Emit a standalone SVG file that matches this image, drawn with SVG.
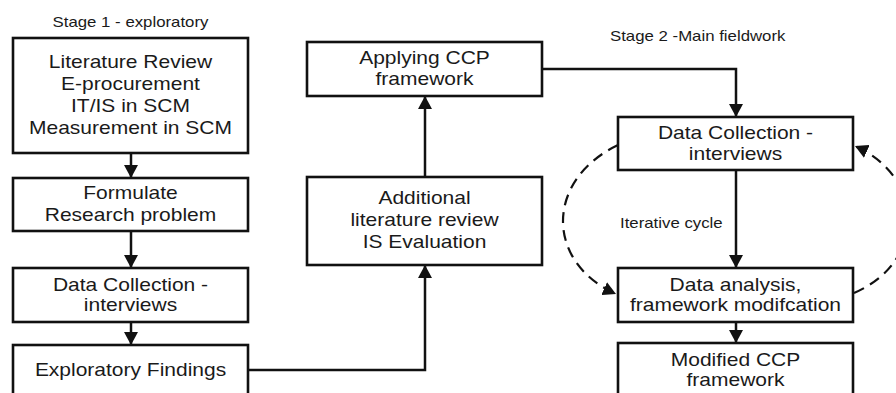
<svg xmlns="http://www.w3.org/2000/svg" width="896" height="393" viewBox="0 0 896 393">
<style>
.box{fill:#fff;stroke:#111;stroke-width:2.6}
.t{font-family:"Liberation Sans",Arial,sans-serif;font-size:17.5px;fill:#1a1a1a;text-anchor:middle}
.s{font-family:"Liberation Sans",Arial,sans-serif;font-size:14px;fill:#1a1a1a}
.c{fill:none;stroke:#111;stroke-width:2.5}
.d{fill:none;stroke:#111;stroke-width:2.2;stroke-dasharray:11 7}
</style>
<defs>
<marker id="ah" markerUnits="userSpaceOnUse" markerWidth="14" markerHeight="14" refX="13" refY="7" orient="auto">
<path d="M0,0 L13,7 L0,14 z" fill="#111"/>
</marker>
</defs>
<text class="s" transform="translate(130.5,27) scale(1.2,1)" text-anchor="middle">Stage 1 - exploratory</text>
<text class="s" transform="translate(610,41) scale(1.2,1)">Stage 2 -Main fieldwork</text>
<text class="s" transform="translate(620,228) scale(1.2,1)">Iterative cycle</text>
<g id="connectors">
<line class="c" x1="131" y1="153" x2="131" y2="178" marker-end="url(#ah)"/>
<line class="c" x1="131" y1="231" x2="131" y2="268" marker-end="url(#ah)"/>
<line class="c" x1="131" y1="322" x2="131" y2="345" marker-end="url(#ah)"/>
<polyline class="c" points="248,370 425,370 425,265" marker-end="url(#ah)"/>
<line class="c" x1="425" y1="177" x2="425" y2="96" marker-end="url(#ah)"/>
<polyline class="c" points="542,69 736,69 736,117" marker-end="url(#ah)"/>
<line class="c" x1="736" y1="170" x2="736" y2="268" marker-end="url(#ah)"/>
<line class="c" x1="736" y1="322" x2="736" y2="343" marker-end="url(#ah)"/>
<path class="d" d="M618,145 C545,180 545,262 616,294" marker-end="url(#ah)"/>
<path class="d" d="M854,293 C926,262 926,178 855,146" marker-end="url(#ah)"/>
</g>
<g id="lit">
<rect class="box" x="13" y="38" width="235" height="115"/>
<text class="t" transform="translate(130.5,68) scale(1.2,1)">Literature Review</text>
<text class="t" transform="translate(130.5,90) scale(1.2,1)">E-procurement</text>
<text class="t" transform="translate(130.5,112) scale(1.2,1)">IT/IS in SCM</text>
<text class="t" transform="translate(130.5,134) scale(1.2,1)">Measurement in SCM</text>
</g>
<g id="formulate">
<rect class="box" x="13" y="178" width="235" height="53"/>
<text class="t" transform="translate(130.5,199) scale(1.2,1)">Formulate</text>
<text class="t" transform="translate(130.5,221) scale(1.2,1)">Research problem</text>
</g>
<g id="dc1">
<rect class="box" x="13" y="268" width="235" height="54"/>
<text class="t" transform="translate(130.5,291) scale(1.2,1)">Data Collection -</text>
<text class="t" transform="translate(130.5,311) scale(1.2,1)">interviews</text>
</g>
<g id="findings">
<rect class="box" x="13" y="345" width="235" height="60"/>
<text class="t" transform="translate(130.5,376) scale(1.2,1)">Exploratory Findings</text>
</g>
<g id="additional">
<rect class="box" x="307" y="177" width="235" height="88"/>
<text class="t" transform="translate(424.5,204) scale(1.2,1)">Additional</text>
<text class="t" transform="translate(424.5,226) scale(1.2,1)">literature review</text>
<text class="t" transform="translate(424.5,248) scale(1.2,1)">IS Evaluation</text>
</g>
<g id="applying">
<rect class="box" x="307" y="42" width="235" height="54"/>
<text class="t" transform="translate(424.5,64) scale(1.2,1)">Applying CCP</text>
<text class="t" transform="translate(424.5,85) scale(1.2,1)">framework</text>
</g>
<g id="dc2">
<rect class="box" x="618" y="117" width="235" height="53"/>
<text class="t" transform="translate(735.5,139) scale(1.2,1)">Data Collection -</text>
<text class="t" transform="translate(735.5,160) scale(1.2,1)">interviews</text>
</g>
<g id="analysis">
<rect class="box" x="618" y="268" width="235" height="54"/>
<text class="t" transform="translate(735.5,291) scale(1.2,1)">Data analysis,</text>
<text class="t" transform="translate(735.5,311) scale(1.2,1)">framework modifcation</text>
</g>
<g id="modified">
<rect class="box" x="618" y="343" width="235" height="60"/>
<text class="t" transform="translate(735.5,366) scale(1.2,1)">Modified CCP</text>
<text class="t" transform="translate(735.5,386) scale(1.2,1)">framework</text>
</g>
</svg>
